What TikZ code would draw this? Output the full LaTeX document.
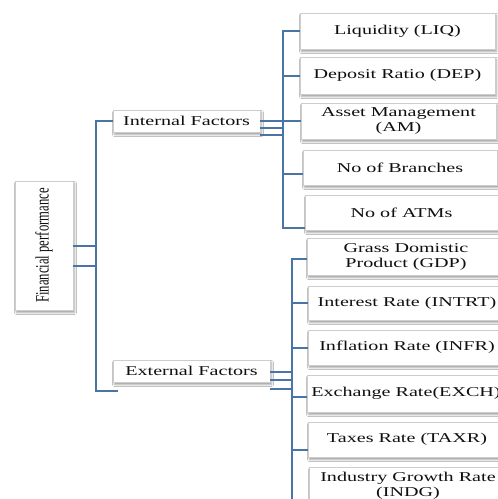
\documentclass[tikz,border=0pt]{standalone}
\usepackage{fontspec}
\setmainfont{Liberation Serif}
\newfontfamily\wfont[FakeStretch=1.49]{Liberation Serif}
\newfontfamily\cfont[FakeStretch=0.67]{Liberation Serif}
\usetikzlibrary{shadows.blur}
\definecolor{conncol}{RGB}{72,116,166}
\definecolor{boxline}{RGB}{205,205,205}
\definecolor{txt}{RGB}{15,15,15}
\tikzset{
  x=1pt, y=-1pt,
  conn/.style={draw=conncol, line width=1.5pt},
  fbox/.style={draw=boxline, line width=0.5pt, fill=white, inner sep=0pt,
    align=center, text=txt, font=\wfont\fontsize{13.5}{15}\selectfont,
    blur shadow={shadow xshift=1.5pt, shadow yshift=-2.5pt, shadow blur radius=2pt, shadow opacity=40}},
}
\begin{document}
\begin{tikzpicture}
\useasboundingbox (0,0) rectangle (498,499);
\fill[white] (0,0) rectangle (498,499);

% root
\node[fbox, minimum width=58pt, minimum height=129pt] (fp) at (44,245.5) {};
\node[text=txt, font=\cfont\fontsize{18.9}{20}\selectfont, rotate=90, inner sep=0pt] (fpt) at (fp.center) {Financial performance};

% second level
\node[fbox, minimum width=147pt, minimum height=22pt] (if) at (186.5,121) {Internal Factors};
\node[fbox, minimum width=157pt, minimum height=22pt] (ef) at (191.5,371) {External Factors};

% internal leaves
\node[fbox, minimum width=195pt, minimum height=36pt] (liq) at (397.5,31) {Liquidity (LIQ)};
\node[fbox, minimum width=195pt, minimum height=37pt] (dep) at (397.5,75.5) {Deposit Ratio (DEP)};
\node[fbox, minimum width=195pt, minimum height=36pt] (am) at (398.5,121) {Asset Management\\(AM)};
\node[fbox, minimum width=194pt, minimum height=35pt] (br) at (400,167.5) {No of Branches};
\node[fbox, minimum width=193pt, minimum height=35pt] (atm) at (401.5,212.5) {No of ATMs};

% external leaves
\node[fbox, minimum width=198pt, minimum height=37pt] (gdp) at (406,256.5) {Grass Domistic\\Product (GDP)};
\node[fbox, minimum width=198pt, minimum height=34pt] (intrt) at (407,303) {Interest Rate (INTRT)};
\node[fbox, minimum width=198pt, minimum height=35pt] (infr) at (407,347.5) {Inflation Rate (INFR)};
\node[fbox, minimum width=198pt, minimum height=37pt] (exch) at (406,393.5) {Exchange Rate(EXCH)};
\node[fbox, minimum width=198pt, minimum height=35pt] (taxr) at (407,439.5) {Taxes Rate (TAXR)};
\node[fbox, minimum width=198pt, minimum height=37pt] (indg) at (408,485.5) {Industry Growth Rate\\(INDG)};

% root trunk
\coordinate (tTop) at (96,121);
\coordinate (tBot) at (96,391);
\coordinate (efEnd) at (118,391);
\draw[conn] (if.west) -- (tTop) -- (tBot) -- (efEnd);
\draw[conn] ([yshift=-0.5pt]fp.east) -- ([yshift=-0.5pt]fp.east -| tTop);
\draw[conn] ([yshift=-20.5pt]fp.east) -- ([yshift=-20.5pt]fp.east -| tTop);

% internal bus
\coordinate (ibTop) at (283,31);
\coordinate (ibBot) at (283,228);
\draw[conn] (liq.west) -- (ibTop) -- (ibBot) -- ([yshift=-15.5pt]atm.west);
\draw[conn] ([yshift=-0.5pt]dep.west) -- ([yshift=-0.5pt]dep.west -| ibTop);
\draw[conn] (am.west) -- (am.west -| ibTop);
\draw[conn] ([yshift=-6.5pt]br.west) -- ([yshift=-6.5pt]br.west -| ibTop);
\draw[conn] (if.east) -- (if.east -| ibTop);
\draw[conn] ([yshift=-7pt]if.east) -- ([yshift=-7pt]if.east -| ibTop);
\draw[conn] ([yshift=-14pt]if.east) -- ([yshift=-14pt]if.east -| ibTop);

% external bus
\coordinate (ebTop) at (292,259);
\coordinate (ebBot) at (292,510);
\draw[conn] ([yshift=-2.5pt]gdp.west) -- (ebTop) -- (ebBot);
\draw[conn] (intrt.west) -- (intrt.west -| ebTop);
\draw[conn] ([yshift=-0.5pt]infr.west) -- ([yshift=-0.5pt]infr.west -| ebTop);
\draw[conn] ([yshift=-3.5pt]exch.west) -- ([yshift=-3.5pt]exch.west -| ebTop);
\draw[conn] ([yshift=-10.5pt]taxr.west) -- ([yshift=-10.5pt]taxr.west -| ebTop);
\draw[conn] ([yshift=-1pt]ef.east) -- ([yshift=-1pt]ef.east -| ebTop);
\draw[conn] ([yshift=-9pt]ef.east) -- ([yshift=-9pt]ef.east -| ebTop);
\draw[conn] ([yshift=-18pt]ef.east) -- ([yshift=-18pt]ef.east -| ebTop);
\end{tikzpicture}
\end{document}
